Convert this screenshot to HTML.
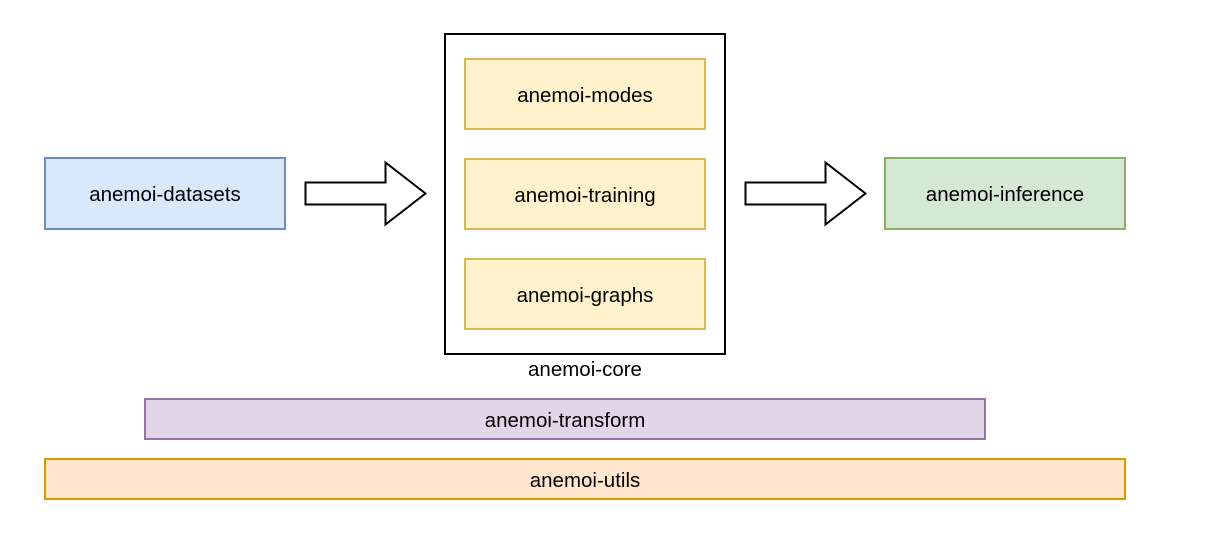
<!DOCTYPE html>
<html><head><style>
body{margin:0;width:1212px;height:538px;background:#fff;position:relative;font-family:"Liberation Sans",Helvetica,Arial,sans-serif;overflow:hidden}
.b{position:absolute;box-sizing:border-box;display:flex;align-items:center;justify-content:center;font-size:20.5px;color:#000;border:2px solid;padding-top:3px}
.y{background:#fff2cc;border-color:#d6b656}
</style></head><body>
<div class="b" style="left:44px;top:157px;width:242px;height:73px;background:#dae8fc;border-color:#6c8ebf">anemoi-datasets</div>
<div class="b" style="left:884px;top:157px;width:242px;height:73px;background:#d5e8d4;border-color:#82b366">anemoi-inference</div>
<div style="position:absolute;left:444px;top:33px;width:282px;height:322px;box-sizing:border-box;border:2px solid #000"></div>
<div class="b y" style="left:464px;top:58px;width:242px;height:72px">anemoi-modes</div>
<div class="b y" style="left:464px;top:158px;width:242px;height:72px">anemoi-training</div>
<div class="b y" style="left:464px;top:258px;width:242px;height:72px">anemoi-graphs</div>
<div style="position:absolute;left:445px;width:280px;top:358px;text-align:center;font-size:20.5px">anemoi-core</div>
<div class="b" style="left:144px;top:398px;width:842px;height:42px;background:#e1d5e7;border-color:#9673a6">anemoi-transform</div>
<div class="b" style="left:44px;top:458px;width:1082px;height:42px;background:#ffe6cc;border-color:#d79b00">anemoi-utils</div>
<svg width="1212" height="538" style="position:absolute;left:0;top:0">
<polygon points="305.5,182.5 385.5,182.5 385.5,162.5 425.5,193.5 385.5,224.5 385.5,204.5 305.5,204.5" fill="#fff" stroke="#000" stroke-width="2"/>
<polygon points="745.5,182.5 825.5,182.5 825.5,162.5 865.5,193.5 825.5,224.5 825.5,204.5 745.5,204.5" fill="#fff" stroke="#000" stroke-width="2"/>
</svg>
</body></html>
